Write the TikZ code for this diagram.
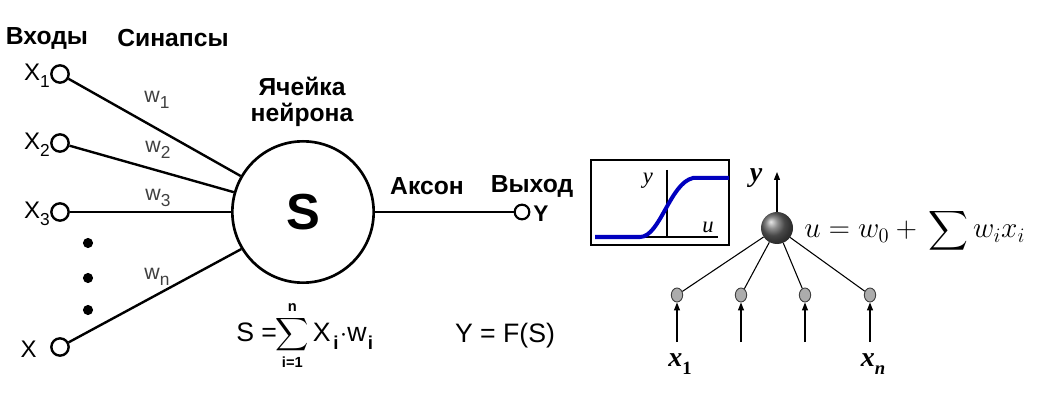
\RequirePackage{fix-cm}
\documentclass[tikz,border=0pt]{standalone}
\usepackage{exscale}
\usepackage{fontspec}
\setmainfont{Liberation Sans}
\newfontfamily\serifit{Liberation Serif}
\usetikzlibrary{arrows.meta,shapes.geometric}
\begin{document}
\begin{tikzpicture}[x=0.75pt,y=-0.75pt,
  head/.style={font=\fontsize{18.5}{21}\selectfont\bfseries, inner sep=0},
  inlabel/.style={font=\fontsize{18}{21}\selectfont, inner sep=0},
  wlabel/.style={font=\fontsize{16}{19}\selectfont, text=black!75, inner sep=0},
  incirc/.style={circle, draw, line width=1.8pt, fill=white, minimum size=13pt, inner sep=0},
  wire/.style={line width=1.8pt},
  cellc/.style={circle, draw, line width=2pt, minimum size=106pt, inner sep=0, font=\fontsize{38}{40}\selectfont\bfseries},
  thinwire/.style={line width=0.8pt},
  smallnode/.style={ellipse, draw=black!75, fill=gray!65, line width=0.7pt, minimum width=8.5pt, minimum height=10.5pt, inner sep=0},
  uparrow/.style={line width=0.9pt, -{Triangle[length=6pt,width=4.5pt]}},
  sitext/.style={font=\serifit\itshape\fontsize{17}{19}\selectfont, inner sep=0},
  bitext/.style={font=\serifit\bfseries\itshape\fontsize{21}{23}\selectfont, inner sep=0}
]
\useasboundingbox (0,0) rectangle (1041,420);
\fill[white] (0,0) rectangle (1041,420);

% headings
\node[head] (hin) at (47,38) {Входы};
\node[head] (hsyn) at (173,38) {Синапсы};
\node[head, align=center] (hcell) at (302,102) {Ячейка\\[-1pt]нейрона};
\node[head] (hax) at (427,186) {Аксон};
\node[head] (hout) at (532,186) {Выход};

% cell
\node[cellc] (cell) at (303,212) {S};

% inputs
\node[incirc] (x1) at (60,74) {};
\node[incirc] (x2) at (60,143) {};
\node[incirc] (x3) at (60,212) {};
\node[incirc] (xn) at (60,347) {};
\node[inlabel, anchor=east] (lx1) at (50,76) {X\raisebox{-0.3em}{\fontsize{13}{13}\selectfont 1}};
\node[inlabel, anchor=east] (lx2) at (50,145) {X\raisebox{-0.3em}{\fontsize{13}{13}\selectfont 2}};
\node[inlabel, anchor=east] (lx3) at (50,214) {X\raisebox{-0.3em}{\fontsize{13}{13}\selectfont 3}};
\node[inlabel, anchor=east] (lxn) at (37,349) {X};

\foreach \yy [count=\k] in {243,278,310} \fill (88,\yy) circle (3.8pt);

\draw[wire] (x1) -- (cell.150);
\draw[wire] (x2) -- (cell.164);
\draw[wire] (x3) -- (cell.180);
\draw[wire] (xn) -- (cell.211);

\node[wlabel] (w1) at (157,100) {w\raisebox{-0.3em}{\fontsize{13}{13}\selectfont 1}};
\node[wlabel] (w2) at (158,150) {w\raisebox{-0.3em}{\fontsize{13}{13}\selectfont 2}};
\node[wlabel] (w3) at (158,198) {w\raisebox{-0.3em}{\fontsize{13}{13}\selectfont 3}};
\node[wlabel] (wn) at (157,277) {w\raisebox{-0.3em}{\fontsize{13}{13}\selectfont n}};

% output
\node[incirc, minimum size=11pt, line width=1.6pt] (yo) at (522,212) {};
\draw[wire] (cell) -- (yo);
\node[inlabel, font=\fontsize{17}{19}\selectfont\bfseries, anchor=west] (ly) at (533,214) {Y};

% formulas
\node[inlabel, font=\fontsize{20}{22}\selectfont, anchor=west] (fs) at (236,336) {S =\hspace{-1pt}{\fontsize{18}{18}\selectfont$\displaystyle\sum_{\mbox{\fontsize{11}{11}\selectfont\bfseries i=1}}^{\mbox{\fontsize{11}{11}\selectfont\bfseries n}}$}\hspace{3pt}X\hspace{2pt}\raisebox{-0.3em}{\fontsize{14}{14}\selectfont\bfseries i}\hspace{1pt}$\cdot$w\hspace{1pt}\raisebox{-0.3em}{\fontsize{14}{14}\selectfont\bfseries i}};
\node[inlabel, font=\fontsize{20}{22}\selectfont] (fy) at (505,336) {Y = F(S)};

% sigmoid box
\draw[line width=1.3pt] (591,160) rectangle (729,245);
\draw[line width=0.8pt] (667,170) -- (667,237);
\draw[line width=0.8pt] (640,237) -- (718,237);
\draw[blue!75!black, line width=3pt] (595,237) -- (640,237) .. controls (660,237) and (670,183) .. (693,178) -- (729,178);
\node[sitext] (gy) at (648,181) {y};
\node[sitext] (gu) at (708,227) {u};

% right neuron
\node[circle, minimum size=24pt, inner sep=0, shading=ball, ball color=gray!80!black] (ball) at (777,228) {};
\coordinate (yend) at (777,172);
\draw[uparrow] (ball) -- (yend);
\node[bitext] (yl) at (756,178) {y};
\node[inner sep=0, anchor=west, font=\fontsize{22}{26}\selectfont] (uf) at (804,231) {$u = w_0 +{}$\,{\fontsize{21}{21}\selectfont$\displaystyle\sum$}\,$w_i x_i$};

\foreach \xx [count=\k] in {677,741,805,870} {
  \node[smallnode] (n\k) at (\xx,295) {};
  \draw[thinwire] (n\k) -- (ball);
  \coordinate (a\k) at (\xx,342);
  \draw[uparrow] (a\k) -- (n\k);
}
\node[bitext] (lx1r) at (680,364) {x\raisebox{-0.3em}{\fontsize{14}{14}\selectfont\upshape 1}};
\node[bitext] (lxnr) at (873,364) {x\raisebox{-0.3em}{\fontsize{14}{14}\selectfont n}};
\end{tikzpicture}
\end{document}
